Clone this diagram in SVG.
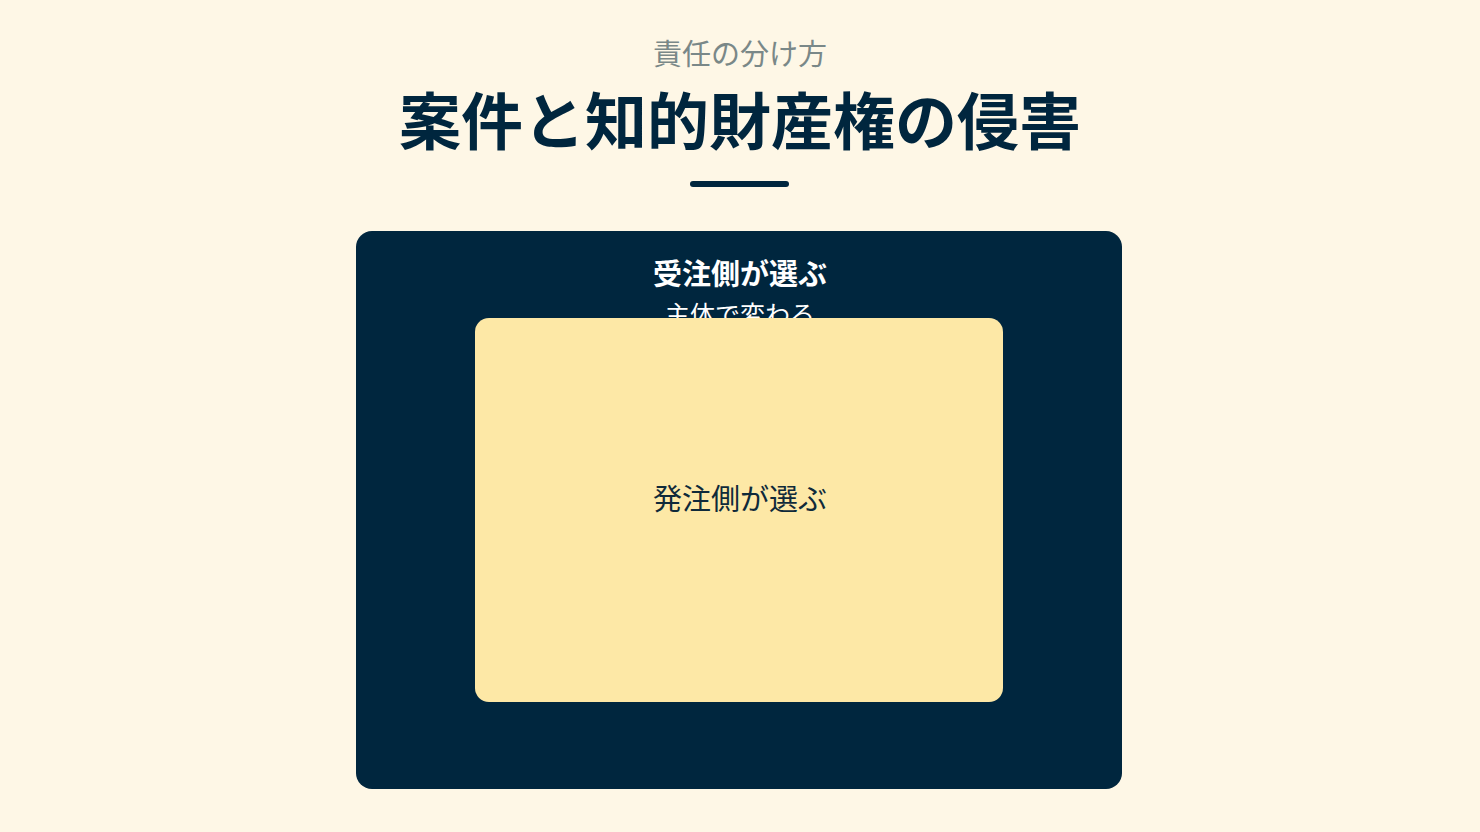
<svg xmlns="http://www.w3.org/2000/svg" width="1480" height="832" viewBox="0 0 1480 832">
<style>
.t{font-family:"Noto Sans CJK JP","Noto Sans",sans-serif;text-anchor:middle}
</style>
<rect width="1480" height="832" fill="#FEF7E6"/>
<g id="header">
<text class="t" x="740" y="65" font-size="29" fill="#7A8888">責任の分け方</text>
<text class="t" x="740" y="145" font-size="62" font-weight="bold" fill="#00263E">案件と知的財産権の侵害</text>
<line x1="693" y1="184" x2="786" y2="184" stroke="#00263E" stroke-width="6" stroke-linecap="round"/>
</g>
<g id="outer">
<rect x="356" y="231" width="766" height="558" rx="16" fill="#00263E"/>
<text class="t" x="740" y="285" font-size="29" font-weight="bold" fill="#FFFFFF">受注側が選ぶ</text>
<text class="t" x="740" y="324" font-size="25" fill="#FFFFFF">主体で変わる</text>
</g>
<g id="inner">
<rect x="475" y="318" width="528" height="384" rx="14" fill="#FDE8A6"/>
<text class="t" x="740" y="510" font-size="29" fill="#0F2A3A">発注側が選ぶ</text>
</g>
<g id="connectors"/>
</svg>
